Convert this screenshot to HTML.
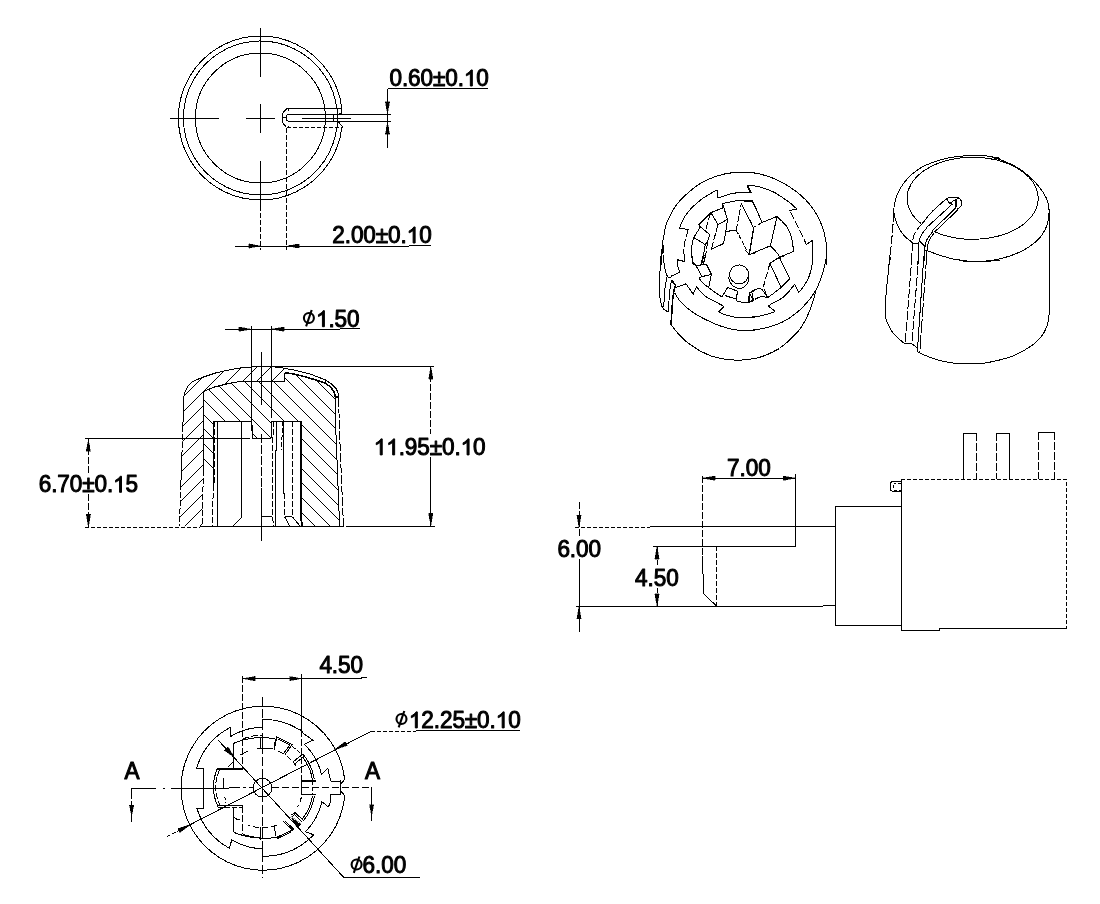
<!DOCTYPE html>
<html><head><meta charset="utf-8"><title>Knob drawing</title>
<style>
html,body{margin:0;padding:0;background:#fff;}
body{width:1100px;height:904px;overflow:hidden;font-family:"Liberation Sans",sans-serif;}
svg{display:block;filter:grayscale(1);}
svg *{vector-effect:non-scaling-stroke;}
.g{fill:none;stroke:#000;stroke-width:1;shape-rendering:crispEdges;}
.g text{fill:#000;stroke:#000;stroke-width:1.0;stroke-linejoin:round;font-family:"Liberation Sans",sans-serif;font-size:23.3px;letter-spacing:-0.1px;white-space:pre;shape-rendering:auto;}
.g .one{fill:#000;stroke:#000;stroke-width:1.0;stroke-linejoin:round;shape-rendering:auto;}
.g .ar{fill:#000;stroke:#000;stroke-width:0.4;}
.g .phi{stroke-width:2.1;shape-rendering:auto;}
</style></head><body>
<svg width="1100" height="904" viewBox="0 0 1100 904">
<rect x="0" y="0" width="1100" height="904" fill="#fff"/>
<g class="g">
<path d="M341.84,127.58 A82,82 0 1 1 341.82,108.26"/>
<path d="M336.81,127.55 A77,77 0 1 1 336.87,108.94"/>
<circle cx="260.4" cy="118" r="65"/>
<line x1="170" y1="118" x2="218.8" y2="118"/>
<line x1="246" y1="118" x2="275" y2="118"/>
<line x1="260.4" y1="27.6" x2="260.4" y2="76.8"/>
<line x1="260.4" y1="104" x2="260.4" y2="132.6"/>
<line x1="260.4" y1="160.5" x2="260.4" y2="206"/>
<line x1="260.4" y1="206" x2="260.4" y2="249.6" stroke-dasharray="5 2"/>
<line x1="286.5" y1="127.6" x2="286.5" y2="249.6" stroke-dasharray="5 2"/>
<path d="M341.5,113.0 L341.5,108.3 L329.0,108.3 L328.0,108.9 L286.5,108.9 L282.3,113.6 L282.3,122.5 L286.5,127.4"/>
<line x1="286.5" y1="127.6" x2="342" y2="127.6" stroke-dasharray="4 2"/>
<path d="M390.6,114.5 L287.7,114.5 L286.3,116.0 L286.3,120.2 L289.0,121.7 L302.0,121.7"/>
<line x1="302" y1="121.2" x2="390.6" y2="121.2"/>
<line x1="302" y1="118.2" x2="351" y2="118.2"/>
<line x1="282.3" y1="117.6" x2="286.3" y2="117.6"/>
<line x1="288.7" y1="108.9" x2="288.7" y2="110.5"/>
<line x1="288.7" y1="126" x2="288.7" y2="127.6"/>
<path d="M341.5,113.0 L338.2,114.5"/>
<path d="M338.2,121.5 L342.3,126.5 L342.0,127.6"/>
<line x1="337.5" y1="108.9" x2="337.5" y2="127.6"/>
<line x1="333.8" y1="114" x2="333.8" y2="122"/>
<line x1="387.5" y1="88.7" x2="387.5" y2="147.8"/>
<line x1="387.5" y1="88.7" x2="488" y2="88.7"/>
<polygon class="ar" points="387.5,114.3 389.7,101.7 385.3,101.7"/>
<polygon class="ar" points="387.5,121.5 385.3,134.1 389.7,134.1"/>
<g class="tx" transform="translate(389.50 86.00) scale(0.968 1)"><text x="0.00" y="0">0.60±0.</text><path class="one" transform="translate(76.87 0) scale(0.01138 -0.01093)" d="M763 0 H583 V1147 Q518 1085 412.5 1023 T223 930 V1104 Q373 1174.5 485 1275 T644 1466 H763 Z"/><text x="89.73" y="0">0</text></g>
<path d="M235.0,246.0 L409.0,246.0 L431.0,245.0"/>
<polygon class="ar" points="260.4,246.0 248.8,243.8 248.8,248.2"/>
<polygon class="ar" points="286.5,246.0 299.1,248.2 299.1,243.8"/>
<g class="tx" transform="translate(332.30 243.00) scale(0.968 1)"><text x="0.00" y="0">2.00±0.</text><path class="one" transform="translate(76.87 0) scale(0.01138 -0.01093)" d="M763 0 H583 V1147 Q518 1085 412.5 1023 T223 930 V1104 Q373 1174.5 485 1275 T644 1466 H763 Z"/><text x="89.73" y="0">0</text></g>
<path d="M183.8,396.5 L184.9,392.0 L187.7,386.5 L192.1,382.1 L197.7,379.3 L203.2,377.1 L216.5,372.7 L231.9,369.4 L241.9,367.7 L251.9,367.0 L271.6,366.6"/>
<path d="M182.9,425.8 L183.8,396.5"/>
<path d="M183.8,396.5 L182.9,425.8"/>
<path d="M183.8,396.5 L182.9,425.8"/>
<path d="M182.9,425.8 L181.9,455.0" stroke-dasharray="6 2"/>
<path d="M181.9,455.0 L180.9,484.0"/>
<path d="M180.9,484.0 L179.4,526.3" stroke-dasharray="6 2"/>
<path d="M271.6,366.6 L279.9,367.5 L296.5,370.5 L310.9,374.3 L325.3,379.9 L331.9,384.3 L336.3,388.7 L338.0,393.1 L338.5,397.6"/>
<path d="M338.5,397.6 L340.2,449.6 L343.5,526.0" stroke-dasharray="9 2"/>
<path d="M284.6,372.7 L293.2,373.8 L306.5,377.1 L315.3,379.9 L324.2,382.6 L330.8,387.1 L334.1,392.0 L335.2,396.5 L335.8,429.6 L339.6,526.0"/>
<path d="M284.6,372.7 L293.2,373.8 L306.5,377.1 L315.3,379.9 L324.2,382.6 L330.8,387.1 L334.1,392.0 L335.2,396.5" stroke-width="1.6"/>
<path d="M203.7,391.5 L204.8,390.9 L214.2,387.1 L229.7,383.2 L243.0,381.0 L271.6,381.0 L284.6,381.5"/>
<path d="M284.6,381.5 L284.6,372.7"/>
<path d="M203.7,391.5 L203.2,470.0"/>
<path d="M203.2,470.0 L202.6,526.0" stroke-dasharray="6 2"/>
<line x1="325.3" y1="379.9" x2="325.3" y2="383.2"/>
<path d="M335.2,396.5 L338.3,396.5 L338.3,397.8 L335.2,397.8"/>
<clipPath id="cs"><polygon points="179.4,526.3 180.6,490.0 181.8,455.0 182.9,425.8 183.8,396.5 184.9,392.0 187.7,386.5 192.1,382.1 197.7,379.3 203.2,377.1 216.5,372.7 231.9,369.4 241.9,367.7 251.9,367.0 271.6,366.6 284.6,368.5 284.6,381.5 271.6,381.0 243.0,381.0 229.7,383.2 214.2,387.1 204.8,390.9 203.7,391.5 203.2,470.0 202.6,526.0"/></clipPath>
<clipPath id="cc"><polygon points="203.7,391.5 204.8,390.9 214.2,387.1 229.7,383.2 243.0,381.0 271.6,381.0 284.6,381.5 284.6,372.7 293.2,373.8 306.5,377.1 315.3,379.9 324.2,382.6 330.8,387.1 334.1,392.0 335.2,396.5 335.8,429.6 339.6,526.0 300.9,526.0 300.9,421.3 271.6,421.3 271.0,438.5 252.4,438.5 251.9,421.3 214.0,421.3 212.6,526.0 202.6,526.0"/></clipPath>
<g clip-path="url(#cs)">
<line x1="170" y1="367" x2="350" y2="187"/>
<line x1="170" y1="381" x2="350" y2="201"/>
<line x1="170" y1="396" x2="350" y2="216"/>
<line x1="170" y1="410" x2="350" y2="230"/>
<line x1="170" y1="425" x2="350" y2="245"/>
<line x1="170" y1="439" x2="350" y2="259"/>
<line x1="170" y1="454" x2="350" y2="274"/>
<line x1="170" y1="468" x2="350" y2="288"/>
<line x1="170" y1="483" x2="350" y2="303"/>
<line x1="170" y1="498" x2="350" y2="318"/>
<line x1="170" y1="512" x2="350" y2="332"/>
<line x1="170" y1="527" x2="350" y2="347"/>
<line x1="170" y1="541" x2="350" y2="361"/>
<line x1="170" y1="556" x2="350" y2="376"/>
<line x1="170" y1="570" x2="350" y2="390"/>
<line x1="170" y1="585" x2="350" y2="405"/>
</g>
<g clip-path="url(#cc)">
<line x1="190" y1="445" x2="350" y2="605"/>
<line x1="190" y1="430" x2="350" y2="590"/>
<line x1="190" y1="415" x2="350" y2="575"/>
<line x1="190" y1="401" x2="350" y2="561"/>
<line x1="190" y1="386" x2="350" y2="546"/>
<line x1="190" y1="371" x2="350" y2="531"/>
<line x1="190" y1="357" x2="350" y2="517"/>
<line x1="190" y1="342" x2="350" y2="502"/>
<line x1="190" y1="327" x2="350" y2="487"/>
<line x1="190" y1="313" x2="350" y2="473"/>
<line x1="190" y1="298" x2="350" y2="458"/>
<line x1="190" y1="283" x2="350" y2="443"/>
<line x1="190" y1="269" x2="350" y2="429"/>
<line x1="190" y1="254" x2="350" y2="414"/>
<line x1="190" y1="239" x2="350" y2="399"/>
<line x1="190" y1="225" x2="350" y2="385"/>
<line x1="190" y1="210" x2="350" y2="370"/>
<line x1="190" y1="195" x2="350" y2="355"/>
</g>
<line x1="214.2" y1="421.3" x2="251.9" y2="421.3"/>
<path d="M251.9,421.3 L252.4,438.5 L271.0,438.5 L271.6,421.3 L301.8,421.3"/>
<path d="M213.7,421.3 L213.2,485.0"/>
<path d="M213.2,485.0 L212.6,526.0" stroke-dasharray="6 2"/>
<path d="M214.5,421.3 L214.2,485.0" stroke-dasharray="6 2"/>
<line x1="217.6" y1="421.3" x2="217.6" y2="526"/>
<path d="M241.9,421.3 L241.9,517.4 L233.0,525.7"/>
<line x1="199.9" y1="526" x2="343.5" y2="526"/>
<line x1="261.6" y1="516.3" x2="272.1" y2="516.3"/>
<path d="M300.9,421.3 L300.9,516.0 L302.0,526.0" stroke-width="1.8"/>
<line x1="301.9" y1="421.3" x2="301.9" y2="480"/>
<path d="M273.5,421.3 L272.7,445.0 L272.7,520.0 L274.0,526.0" stroke-dasharray="6 2"/>
<path d="M276.5,421.3 L276.5,450.0 L275.5,451.0 L275.5,526.0"/>
<path d="M283.8,421.3 L283.8,493.0"/>
<path d="M283.8,493.0 L284.6,495.0 L284.6,516.3" stroke-dasharray="6 2"/>
<path d="M284.6,516.3 L292.0,516.3"/>
<path d="M292.6,421.3 L292.6,516.3" stroke-dasharray="6 2"/>
<path d="M284.8,517.0 L289.3,525.7"/>
<path d="M292.6,517.0 L299.8,525.7"/>
<path d="M282.5,421.3 L281.6,450.0" stroke-dasharray="5 2"/>
<line x1="261.5" y1="352" x2="261.5" y2="405"/>
<line x1="261.1" y1="433.6" x2="261.1" y2="488" stroke-dasharray="9 2"/>
<line x1="261.1" y1="488" x2="261.1" y2="541"/>
<line x1="251.4" y1="325.7" x2="251.4" y2="431"/>
<line x1="271.4" y1="325.7" x2="271.4" y2="417.7"/>
<path d="M225.0,329.2 L340.0,329.2 L341.0,328.3 L360.0,328.3"/>
<polygon class="ar" points="251.4,329.2 238.8,327.0 238.8,331.4"/>
<polygon class="ar" points="271.4,329.2 284.0,331.4 284.0,327.0"/>
<g class="phi"><ellipse cx="308.9" cy="318" rx="5" ry="5"/><line x1="306.09999999999997" y1="326.4" x2="311.7" y2="310"/></g>
<g class="tx" transform="translate(316.00 326.70) scale(0.968 1)"><path class="one" transform="translate(0.00 0) scale(0.01138 -0.01093)" d="M763 0 H583 V1147 Q518 1085 412.5 1023 T223 930 V1104 Q373 1174.5 485 1275 T644 1466 H763 Z"/><text x="12.86" y="0">.50</text></g>
<line x1="253" y1="366.4" x2="433.5" y2="366.4"/>
<line x1="346.3" y1="526" x2="434.6" y2="526"/>
<line x1="430.8" y1="366.4" x2="430.8" y2="434" stroke-dasharray="7 2"/>
<line x1="430.8" y1="457" x2="430.8" y2="526"/>
<polygon class="ar" points="430.8,366.4 428.6,379.0 433.0,379.0"/>
<polygon class="ar" points="430.8,526.0 433.0,513.4 428.6,513.4"/>
<g class="tx" transform="translate(373.80 454.90) scale(0.968 1)"><path class="one" transform="translate(0.00 0) scale(0.01138 -0.01093)" d="M763 0 H583 V1147 Q518 1085 412.5 1023 T223 930 V1104 Q373 1174.5 485 1275 T644 1466 H763 Z"/><path class="one" transform="translate(12.86 0) scale(0.01138 -0.01093)" d="M763 0 H583 V1147 Q518 1085 412.5 1023 T223 930 V1104 Q373 1174.5 485 1275 T644 1466 H763 Z"/><text x="25.72" y="0">.95±0.</text><path class="one" transform="translate(89.73 0) scale(0.01138 -0.01093)" d="M763 0 H583 V1147 Q518 1085 412.5 1023 T223 930 V1104 Q373 1174.5 485 1275 T644 1466 H763 Z"/><text x="102.58" y="0">0</text></g>
<line x1="85.3" y1="438.5" x2="249.6" y2="438.5"/>
<line x1="85.3" y1="527.2" x2="199.9" y2="527.2" stroke-dasharray="4 2"/>
<line x1="88.4" y1="438.5" x2="88.4" y2="472.5" stroke-dasharray="7 2"/>
<line x1="88.4" y1="494" x2="88.4" y2="527" stroke-dasharray="7 2"/>
<polygon class="ar" points="88.4,438.5 86.2,451.1 90.6,451.1"/>
<polygon class="ar" points="88.4,527.0 90.6,514.4 86.2,514.4"/>
<g class="tx" transform="translate(38.70 492.30) scale(0.968 1)"><text x="0.00" y="0">6.70±0.</text><path class="one" transform="translate(76.87 0) scale(0.01138 -0.01093)" d="M763 0 H583 V1147 Q518 1085 412.5 1023 T223 930 V1104 Q373 1174.5 485 1275 T644 1466 H763 Z"/><text x="89.73" y="0">5</text></g>
<path d="M340.5,781.5 L341.5,783.5 L344.4,779.6 L344.4,777.6 A82,82 0 1 0 344.4,798.8 L344.1,794.8 L340.8,791.2"/>
<line x1="340.5" y1="780.2" x2="340.5" y2="794.5"/>
<path d="M196.4,768.7 A68.5,68.5 0 0 1 230.3,727.4 L230.8,736.4 A60.5,60.5 0 0 1 262.6,727.3 L262.6,719.4 A68.5,68.5 0 0 1 299.8,729.9 L301.8,730.2 L302.8,732.9 L312.8,740.3 L304.3,744.3 A60.5,60.5 0 0 1 321.5,774.6 L327.8,768.3 L330.5,780.2 L331.2,781.5 L340.5,781.5"/>
<path d="M340.5,794.5 L330.2,794.5 L330.5,800.8 L329.5,805.4 L327.8,806.4 L321.9,801.8 A60.5,60.5 0 0 1 305.3,831.8 L313.8,834.8 L307.8,840.3 A68.5,68.5 0 0 1 262.5,856.2 L262.5,848.7 A60.5,60.5 0 0 1 231.8,839.8 L229.3,848.2 A68.7,68.7 0 0 1 196.9,808.4 L203.9,808.4 L203.9,768.5 L196.4,768.7"/>
<circle cx="262.5" cy="787.8" r="9.4"/>
<line x1="262.6" y1="776" x2="262.6" y2="800"/>
<line x1="131.2" y1="788.4" x2="155.7" y2="788.4"/>
<line x1="162.5" y1="788.4" x2="165" y2="788.4"/>
<line x1="171" y1="788.2" x2="229.3" y2="788.2"/>
<line x1="229.3" y1="787.8" x2="253" y2="787.8" stroke-dasharray="11 3 3 3"/>
<line x1="272" y1="787.6" x2="371.6" y2="787.6" stroke-dasharray="7 3"/>
<line x1="262.6" y1="697.4" x2="262.6" y2="878" stroke-dasharray="9 3"/>
<path d="M233.8,768.7 L233.8,743.3 Q246,738 261.4,737.3 L275.5,738.6"/>
<path d="M242.69,739.07 A52.6,52.6 0 0 1 262.50,735.20" stroke-dasharray="7 2"/>
<line x1="217.3" y1="768.7" x2="242.7" y2="768.7" stroke-width="2"/>
<path d="M217.3,768.7 Q209.3,787.6 217.8,806.4"/>
<path d="M219.5,770 Q211.6,787.6 219.8,805" stroke-dasharray="6 2"/>
<line x1="217.8" y1="805.6" x2="242.7" y2="805.6"/>
<line x1="217.8" y1="807.4" x2="242.7" y2="807.4" stroke-dasharray="5 2"/>
<line x1="242.7" y1="675.8" x2="242.7" y2="768.7" stroke-dasharray="7 2"/>
<line x1="240.2" y1="754.8" x2="247.7" y2="751.3"/>
<line x1="228.3" y1="766.7" x2="233.3" y2="761.8"/>
<line x1="223.8" y1="778" x2="223.8" y2="787.6"/>
<line x1="224.8" y1="797" x2="225.8" y2="803" stroke-dasharray="3 2"/>
<line x1="260.5" y1="737.3" x2="260.5" y2="748.2"/>
<line x1="262.5" y1="737.3" x2="262.5" y2="748.2"/>
<line x1="257.3" y1="748.5" x2="273.2" y2="748.5"/>
<line x1="275.5" y1="738.6" x2="274.1" y2="749.5"/>
<path d="M274.5,748.0 L276.8,736.8 L292.3,744.5 L285.0,754.5"/>
<path d="M277.8,738.8 L290.0,745.0 L284.0,753.0"/>
<path d="M277.91,750.89 A40,40 0 0 1 283.97,754.05"/>
<path d="M287.29,756.41 A40,40 0 0 1 296.44,766.63" stroke-dasharray="5 3"/>
<line x1="292.3" y1="746.4" x2="302.3" y2="754.5" stroke-dasharray="4 2"/>
<line x1="293.2" y1="761.8" x2="302.7" y2="754.1"/>
<line x1="295" y1="763.6" x2="304" y2="756.4"/>
<path d="M302.81,754.01 A52.6,52.6 0 0 1 314.35,778.94"/>
<path d="M302.85,757.27 A50.6,50.6 0 0 1 312.42,779.56"/>
<line x1="301.3" y1="780.5" x2="315.9" y2="780.5" stroke-width="2"/>
<line x1="301.6" y1="779.5" x2="301.6" y2="794.5"/>
<line x1="301.3" y1="794.5" x2="315.9" y2="794.5"/>
<line x1="312.4" y1="780.5" x2="312.4" y2="794.5" stroke-dasharray="4 2"/>
<line x1="301.6" y1="674" x2="301.6" y2="730"/>
<line x1="301.8" y1="730" x2="301.8" y2="780" stroke-dasharray="7 2"/>
<path d="M314.43,796.14 A52.6,52.6 0 0 1 303.66,820.55"/>
<path d="M312.44,795.97 A50.6,50.6 0 0 1 302.28,819.07"/>
<path d="M303.6,820.5 L295.0,812.7 L290.9,815.0"/>
<path d="M302.2,822.0 L294.6,814.8 L292.0,816.5"/>
<path d="M301.38,797.20 A40,40 0 0 1 297.78,806.66" stroke-dasharray="5 3"/>
<path d="M283.2,821.4 L292.7,830.0 L276.8,837.3"/>
<path d="M285.0,821.0 L294.0,829.4"/>
<path d="M291.0,832.0 L277.5,838.5"/>
<line x1="260.9" y1="827.3" x2="260.9" y2="839"/>
<line x1="262.7" y1="827.3" x2="262.7" y2="839"/>
<path d="M276.69,825.20 A40,40 0 0 1 248.25,825.17" stroke-dasharray="6 3"/>
<path d="M274.0,825.5 L276.0,836.4"/>
<path d="M233.6,832.3 Q246,837.5 261.4,838.2 Q270,838.5 276.8,837.3"/>
<path d="M242.7,834.3 Q251,837 260.7,837.8"/>
<line x1="233.8" y1="807" x2="233.8" y2="832.3"/>
<line x1="242.7" y1="806" x2="242.7" y2="834.3" stroke-dasharray="7 2"/>
<path d="M233.8,817 Q236,819.5 240.5,820.3"/>
<line x1="260.7" y1="827.3" x2="260.7" y2="839.8"/>
<line x1="218.3" y1="740.3" x2="343.7" y2="877.4"/>
<line x1="343.7" y1="877.4" x2="419.6" y2="877.4"/>
<line x1="167" y1="836.6" x2="177" y2="831.5" stroke-dasharray="4 2"/>
<line x1="177" y1="831.5" x2="370.9" y2="731.4"/>
<line x1="370.9" y1="731.4" x2="416.3" y2="731.4" stroke-dasharray="4 2"/>
<line x1="416.3" y1="730.5" x2="519.8" y2="730.5"/>
<polygon class="ar" points="334.4,749.7 347.5,745.4 345.4,741.5"/>
<polygon class="ar" points="190.9,824.3 177.8,828.6 179.9,832.5"/>
<polygon class="ar" points="234.8,757.8 228.0,746.9 224.3,750.4"/>
<polygon class="ar" points="290.5,816.8 297.2,827.8 300.9,824.3"/>
<g class="phi"><ellipse cx="401.5" cy="719" rx="5" ry="5"/><line x1="398.7" y1="727.4" x2="404.3" y2="711"/></g>
<g class="tx" transform="translate(408.90 727.90) scale(0.968 1)"><path class="one" transform="translate(0.00 0) scale(0.01138 -0.01093)" d="M763 0 H583 V1147 Q518 1085 412.5 1023 T223 930 V1104 Q373 1174.5 485 1275 T644 1466 H763 Z"/><text x="12.86" y="0">2.25±0.</text><path class="one" transform="translate(89.73 0) scale(0.01138 -0.01093)" d="M763 0 H583 V1147 Q518 1085 412.5 1023 T223 930 V1104 Q373 1174.5 485 1275 T644 1466 H763 Z"/><text x="102.58" y="0">0</text></g>
<g class="phi"><ellipse cx="356.59999999999997" cy="864.5" rx="5" ry="5"/><line x1="353.79999999999995" y1="872.9" x2="359.4" y2="856.5"/></g>
<g class="tx" transform="translate(362.60 873.40) scale(0.968 1)"><text x="0.00" y="0">6.00</text></g>
<path d="M242.4,678.6 L360.8,678.6 L361.8,677.7 L366.5,677.7"/>
<polygon class="ar" points="242.4,678.6 255.0,680.8 255.0,676.4"/>
<polygon class="ar" points="301.5,678.6 289.9,676.4 289.9,680.8"/>
<g class="tx" transform="translate(319.40 672.90) scale(0.968 1)"><text x="0.00" y="0">4.50</text></g>
<g class="tx" transform="translate(124.50 779.10) scale(0.968 1)"><text x="0.00" y="0">A</text></g>
<g class="tx" transform="translate(364.90 779.10) scale(0.968 1)"><text x="0.00" y="0">A</text></g>
<line x1="131.6" y1="788.4" x2="131.6" y2="799"/>
<line x1="131.6" y1="801" x2="131.6" y2="821.6"/>
<polygon class="ar" points="131.6,816.0 133.8,805.3 129.4,805.3"/>
<line x1="371.6" y1="786.9" x2="371.6" y2="820.5"/>
<polygon class="ar" points="371.6,815.5 373.8,804.8 369.4,804.8"/>
<line x1="574.9" y1="527.3" x2="649.6" y2="527.3" stroke-dasharray="4 2"/>
<line x1="649.6" y1="526.4" x2="835.3" y2="526.4"/>
<line x1="653" y1="546.4" x2="795.9" y2="546.4"/>
<path d="M575.7,606.3 L822.4,606.3 L823.4,605.5 L835.3,605.5"/>
<line x1="702.4" y1="475.5" x2="702.4" y2="555.9" stroke-dasharray="7 2"/>
<path d="M702.4,555.9 L703.7,594.0 L716.3,605.8"/>
<line x1="716.3" y1="546.4" x2="716.3" y2="605.8" stroke-dasharray="5 2"/>
<line x1="795.9" y1="474" x2="795.9" y2="546.4"/>
<path d="M901.3,506.4 L835.3,506.4 L835.3,625.2 L901.3,625.2"/>
<path d="M1066.6,628.9 L939.3,628.9 L939.3,630.0 L901.3,630.0 L901.3,479.2"/>
<path d="M901.3,479.2 L1066.6,479.2 L1066.6,628.9" stroke-dasharray="4 2"/>
<path d="M963.6,479.2 L963.6,433.4 L976.3,433.4"/>
<line x1="976.3" y1="433.4" x2="976.3" y2="479.2" stroke-dasharray="8 2"/>
<path d="M996.5,433.4 L1009.4,433.4 L1009.4,479.2"/>
<line x1="996.5" y1="433.4" x2="996.5" y2="479.2" stroke-dasharray="8 2"/>
<line x1="1038.4" y1="432.2" x2="1054.4" y2="432.2"/>
<line x1="1038.4" y1="432.2" x2="1038.4" y2="479.2" stroke-dasharray="8 2"/>
<line x1="1054.4" y1="432.2" x2="1054.4" y2="479.2" stroke-dasharray="8 2"/>
<path d="M901.3,481.6 L893,481.6 Q890.6,481.6 890.6,484 L890.6,489 Q890.6,491.3 893,491.3 L901.3,491.3"/>
<path d="M901.3,483.0 L893.5,483.0 L893.5,490.0 L901.3,490.0" stroke-dasharray="3 2"/>
<line x1="702.4" y1="478.2" x2="795.9" y2="478.2"/>
<polygon class="ar" points="702.4,478.2 715.0,480.4 715.0,476.0"/>
<polygon class="ar" points="795.9,478.2 783.3,476.0 783.3,480.4"/>
<g class="tx" transform="translate(727.10 475.50) scale(0.968 1)"><text x="0.00" y="0">7.00</text></g>
<line x1="579" y1="502" x2="579" y2="538" stroke-dasharray="7 2"/>
<line x1="579" y1="558.9" x2="579" y2="632"/>
<polygon class="ar" points="579.0,527.3 581.2,515.2 576.8,515.2"/>
<polygon class="ar" points="579.0,606.3 576.8,618.9 581.2,618.9"/>
<g class="tx" transform="translate(557.40 557.30) scale(0.968 1)"><text x="0.00" y="0">6.00</text></g>
<line x1="657" y1="546.4" x2="657" y2="566" stroke-dasharray="5 2"/>
<line x1="657" y1="588" x2="657" y2="606" stroke-dasharray="5 2"/>
<polygon class="ar" points="657.0,546.4 654.8,559.0 659.2,559.0"/>
<polygon class="ar" points="657.0,606.3 659.2,593.7 654.8,593.7"/>
<g class="tx" transform="translate(635.10 585.70) scale(0.968 1)"><text x="0.00" y="0">4.50</text></g>
<path d="M913.2,243.2 C911.6,241.9 906.5,238.4 903.9,235.3 C901.2,232.2 898.9,228.4 897.3,224.6 C895.6,220.9 894.4,216.2 893.9,212.7 C893.5,209.2 894.0,206.5 894.6,203.4 C895.2,200.3 895.9,197.2 897.3,194.1 C898.6,191.0 900.4,187.9 902.6,184.8 C904.8,181.7 907.4,178.4 910.5,175.5 C913.6,172.7 917.4,169.8 921.2,167.6 C924.9,165.4 928.9,163.8 933.1,162.3 C937.3,160.7 941.9,159.3 946.4,158.3 C950.8,157.3 955.2,156.8 959.6,156.3 C964.1,155.8 968.5,155.4 972.9,155.4 C977.3,155.3 981.7,155.4 986.2,155.9 C990.7,156.4 997.7,157.9 1000.0,158.3"/>
<path d="M991.9,157.2 C994.1,157.9 1000.7,159.8 1005.1,161.6 C1009.6,163.4 1014.2,165.6 1018.4,168.2 C1022.6,170.9 1026.8,174.3 1030.4,177.5 C1033.9,180.7 1037.0,184.1 1039.6,187.5 C1042.3,190.9 1044.7,194.8 1046.3,198.1 C1047.8,201.4 1048.7,203.2 1048.9,207.4 C1049.2,211.6 1049.2,218.2 1047.6,223.3 C1046.1,228.4 1043.2,233.7 1039.6,237.9 C1036.1,242.1 1031.2,245.6 1026.4,248.5 C1021.5,251.5 1016.0,253.9 1010.4,255.8 C1004.9,257.8 998.9,259.3 993.2,260.2 C987.4,261.2 981.5,261.5 975.9,261.6 C970.4,261.6 962.7,260.9 960.0,260.8"/>
<path d="M925.1,249.9 C927.6,250.8 934.9,253.6 939.7,255.2 C944.6,256.7 948.8,258.1 954.3,259.2 C959.9,260.2 967.6,261.2 972.9,261.6 C978.2,261.9 981.7,261.5 986.2,261.3 C990.7,261.1 997.7,260.4 1000.0,260.2"/>
<path d="M921.1,223.7 A65.6,41.1 0 1 1 933.8,231.4"/>
<path d="M893.9,212.7 L892.6,230.0 L890.9,248.5 L889.6,265.0" stroke-dasharray="9 2"/>
<path d="M890.0,255.0 C889.6,258.3 888.6,268.3 888.0,274.9 C887.3,281.5 886.4,288.2 886.0,294.8 C885.5,301.5 885.0,309.9 885.3,314.7 C885.6,319.6 886.6,320.9 888.0,324.0 C889.3,327.1 890.7,330.2 893.3,333.3 C895.8,336.4 901.2,340.8 903.2,342.6 C905.2,344.4 904.9,343.7 905.2,343.9"/>
<path d="M905.2,343.9 L911.9,343.9 L917.2,347.9 L917.8,351.9"/>
<path d="M917.8,351.9 C919.3,352.6 922.8,354.5 926.5,355.9 C930.1,357.3 934.6,359.3 939.7,360.5 C944.8,361.8 951.5,363.0 957.0,363.6 C962.5,364.1 968.1,364.0 972.9,363.9 C977.8,363.7 981.7,363.5 986.2,362.8 C990.7,362.1 997.7,360.4 1000.0,359.9"/>
<path d="M960.0,363.9 C964.0,363.7 977.3,363.9 983.9,363.2 C990.5,362.5 995.0,361.1 999.8,359.9 C1004.7,358.7 1009.1,357.4 1013.1,355.9 C1017.1,354.3 1020.0,352.8 1023.7,350.6 C1027.5,348.4 1032.3,345.5 1035.7,342.6 C1039.0,339.7 1041.6,336.4 1043.6,333.3 C1045.6,330.2 1046.7,327.0 1047.6,324.0 C1048.5,321.0 1048.7,316.8 1048.9,315.4"/>
<line x1="1049.6" y1="208.7" x2="1049.6" y2="315.4"/>
<path d="M922.5,223.3 C923.8,221.7 927.8,216.3 930.4,213.4 C933.1,210.4 935.8,208.2 938.4,205.8 C941.1,203.4 945.0,199.9 946.4,198.8"/>
<path d="M926.5,227.6 L952.3,204.1"/>
<path d="M932.4,230.6 L956.3,207.4"/>
<path d="M934.4,232.2 L958.3,209.4"/>
<path d="M946.4,198.8 L949.0,197.4 L954.3,197.0 L959.6,198.1 L961.6,201.4 L961.2,206.1 L957.7,209.0"/>
<path d="M946.4,198.8 L949.7,203.4 L952.3,204.1"/>
<path d="M949.7,203.4 L955.7,199.4 L959.6,198.1"/>
<path d="M955.7,199.4 L955.7,207.4" stroke-width="1.8"/>
<path d="M922.5,223.3 C921.4,224.6 917.4,228.9 915.8,231.3 C914.3,233.7 913.7,235.5 913.2,237.9 C912.6,240.4 912.9,241.4 912.5,245.9 C912.2,250.4 911.4,261.8 911.2,265.0" stroke-dasharray="9 2"/>
<path d="M927.1,227.3 C926.1,228.6 922.5,233.1 921.2,235.3 C919.8,237.5 919.6,237.9 919.2,240.6 C918.7,243.2 918.7,247.1 918.5,251.2 C918.3,255.3 917.9,262.7 917.8,265.0"/>
<path d="M933.1,231.3 C932.1,232.6 928.5,236.8 927.1,239.3 C925.8,241.7 925.7,241.6 925.1,245.9 C924.6,250.2 924.0,261.8 923.8,265.0"/>
<path d="M934.4,232.6 C933.5,233.9 930.3,237.9 929.1,240.6 C927.9,243.2 927.6,244.5 927.1,248.5 C926.7,252.6 926.6,262.3 926.5,265.0"/>
<path d="M919.2,240.6 L925.1,246.6"/>
<path d="M913.2,243.2 L918.5,243.2"/>
<path d="M911.9,256.3 L905.2,343.9" stroke-dasharray="9 2"/>
<path d="M918.8,255.0 L911.9,343.3" stroke-dasharray="9 2"/>
<path d="M923.8,256.3 L917.4,351.2"/>
<path d="M926.7,255.0 L919.8,352.6" stroke-dasharray="14 2"/>
<path d="M662.2,249.1 C662.3,248.0 662.5,244.6 662.7,242.4 C663.0,240.2 663.3,238.7 663.8,235.8 C664.4,232.8 664.8,228.6 666.1,224.7 C667.4,220.9 669.6,216.3 671.6,212.6 C673.6,208.9 675.5,205.9 678.2,202.6 C681.0,199.3 684.3,196.0 688.2,192.7 C692.1,189.3 696.7,185.5 701.5,182.7 C706.3,179.9 711.8,177.7 716.9,176.1 C722.1,174.4 726.1,173.4 732.4,172.7 C738.8,172.1 751.2,172.3 755.0,172.2"/>
<path d="M745.0,172.2 C746.8,172.4 752.4,172.7 756.1,173.3 C759.7,173.9 763.4,174.9 767.1,176.1 C770.8,177.3 774.5,178.7 778.2,180.5 C781.9,182.2 785.6,184.2 789.2,186.6 C792.9,189.0 797.0,192.0 800.3,194.9 C803.6,197.7 806.4,200.4 809.2,203.7 C811.9,207.0 814.7,210.9 816.9,214.8 C819.1,218.7 821.0,222.7 822.4,226.9 C823.9,231.2 825.0,236.2 825.8,240.2 C826.5,244.3 826.7,247.2 826.9,251.3 C827.0,255.4 826.9,262.7 826.9,265.0"/>
<path d="M826.9,255.0 C826.5,256.8 825.6,262.4 824.6,266.1 C823.7,269.7 822.8,273.1 821.3,277.1 C819.9,281.2 818.2,286.2 815.8,290.4 C813.4,294.6 810.1,298.9 806.9,302.6 C803.8,306.3 800.9,309.4 797.0,312.5 C793.1,315.7 788.3,319.0 783.7,321.4 C779.1,323.8 773.9,325.5 769.3,326.9 C764.7,328.3 760.1,329.1 756.1,329.7 C752.0,330.3 746.8,330.3 745.0,330.4"/>
<path d="M674.4,292.6 C675.4,294.1 677.6,298.3 680.4,301.5 C683.3,304.6 687.4,308.5 691.5,311.4 C695.6,314.4 699.8,316.7 704.8,319.2 C709.8,321.6 715.8,324.5 721.4,326.3 C726.9,328.2 732.4,329.5 738.0,330.2 C743.6,330.9 752.2,330.4 755.0,330.4"/>
<path d="M815.8,290.4 C815.4,291.9 814.5,296.1 813.6,299.2 C812.7,302.4 811.7,305.5 810.3,309.2 C808.8,312.9 806.8,317.7 804.7,321.4 C802.7,325.1 801.0,327.8 798.1,331.3 C795.1,334.8 790.1,339.6 787.0,342.4 C783.9,345.2 780.8,347.3 779.5,348.3"/>
<path d="M671.0,324.7 C672.1,326.0 674.6,329.7 677.1,332.4 C679.6,335.2 682.7,338.5 686.0,341.3 C689.3,344.0 694.5,347.3 697.0,349.0 C699.5,350.7 700.3,351.0 700.9,351.3"/>
<path d="M700.9,351.3 C702.7,352.1 707.4,354.8 711.8,356.2 C716.2,357.6 722.7,358.9 727.1,359.5 C731.5,360.1 734.7,360.1 738.0,360.1 C741.3,360.1 743.4,360.1 746.7,359.7 C750.0,359.3 754.0,358.8 757.6,357.8 C761.2,356.9 764.9,355.6 768.5,354.0 C772.1,352.4 777.7,349.4 779.5,348.5"/>
<path d="M662.7,241.3 C662.6,243.4 661.9,249.6 661.6,253.5 C661.4,257.4 661.2,263.1 661.1,265.0"/>
<path d="M662.5,242.4 L663.3,253.5" stroke-width="1.6"/>
<path d="M661.1,255.0 C660.9,257.8 660.3,265.3 660.0,271.6 C659.7,277.9 659.1,286.7 659.4,292.6 C659.8,298.5 660.9,303.9 662.2,307.0 C663.5,310.1 666.1,310.9 667.2,311.4 C668.3,312.0 668.6,310.5 668.8,310.3"/>
<path d="M663.3,255.0 C663.5,256.8 663.8,262.6 664.4,266.1 C665.0,269.6 666.2,274.1 667.2,276.0 C668.2,278.0 669.9,277.4 670.5,277.7"/>
<path d="M670.5,277.7 L671.6,276.0 L679.9,272.1 L677.7,266.1 L677.1,259.4 L684.9,261.6 L684.9,256.1"/>
<path d="M667.2,276.0 C666.8,278.0 665.4,284.3 665.0,288.2 C664.5,292.1 664.8,295.9 664.4,299.2 C664.0,302.6 663.0,306.6 662.7,308.1"/>
<path d="M671.6,280.4 C671.2,282.7 669.8,288.7 669.4,293.7 C668.9,298.7 668.9,307.5 668.8,310.3"/>
<path d="M671.6,280.4 L675.5,284.9 L673.8,291.5 L672.7,299.2 L671.6,315.8 L671.0,324.7" stroke-width="1.6"/>
<path d="M675.5,287.6 L686.0,283.8 L693.2,294.3 L696.5,286.5"/>
<path d="M688.2,229.2 L679.3,228.6"/>
<path d="M679.3,228.6 C680.1,226.9 681.7,221.5 683.8,218.1 C685.8,214.7 688.6,211.3 691.5,208.1 C694.5,205.0 697.5,202.2 701.5,199.3 C705.4,196.4 713.0,192.1 715.3,190.7"/>
<path d="M715.3,190.7 L717.5,190.7 L717.8,198.2"/>
<path d="M717.8,198.2 C719.9,197.5 725.9,195.0 730.2,194.0 C734.5,193.0 740.0,192.3 743.5,192.1 C747.0,191.9 749.9,192.6 751.2,192.7"/>
<path d="M751.2,192.7 L747.9,185.5 L755.0,185.8"/>
<path d="M688.2,229.2 C687.9,230.3 687.2,233.2 686.5,235.8 C685.9,238.4 684.7,241.7 684.3,244.6 C683.9,247.6 683.9,250.7 684.0,253.5 C684.1,256.3 684.7,259.9 684.9,261.2" stroke-dasharray="8 2"/>
<path d="M684.9,261.8 L677.1,259.9 L677.1,265.0"/>
<path d="M745.0,192.4 L750.0,192.7 L747.2,185.5"/>
<path d="M747.2,185.5 C748.5,185.6 752.2,185.6 755.0,186.0 C757.7,186.5 760.7,187.2 763.8,188.2 C766.9,189.2 770.6,190.5 773.8,192.1 C776.9,193.7 779.8,195.8 782.6,197.6 C785.4,199.5 788.0,201.2 790.4,203.2 C792.8,205.1 795.9,208.2 797.0,209.2"/>
<path d="M797.0,209.2 L789.2,210.4"/>
<path d="M790.4,212.0 C791.3,213.8 794.0,218.9 795.9,222.5 C797.7,226.1 799.7,229.9 801.4,233.6 C803.2,237.3 805.6,242.8 806.4,244.6" stroke-dasharray="8 2"/>
<path d="M806.4,244.6 L812.5,240.2 L813.0,251.3 L812.7,265.0"/>
<path d="M812.5,255.0 C812.4,256.8 812.5,262.6 811.9,266.1 C811.4,269.6 810.4,272.9 809.2,276.0 C808.0,279.2 806.5,282.1 804.7,284.9 C803.0,287.6 799.7,291.3 798.7,292.6"/>
<path d="M798.7,292.6 L794.8,284.3 L792.0,287.6"/>
<path d="M792.0,287.6 C791.2,288.6 789.0,291.8 787.0,293.7 C785.1,295.7 782.6,297.8 780.4,299.2 C778.2,300.7 775.8,301.5 773.8,302.6 C771.7,303.7 769.2,305.3 768.2,305.9"/>
<path d="M768.2,305.9 L775.4,311.4"/>
<path d="M775.4,311.4 C774.0,311.9 770.4,313.3 767.1,314.2 C763.9,315.1 759.7,316.2 756.1,316.7 C752.4,317.2 746.8,317.1 745.0,317.2"/>
<path d="M696.5,286.5 C697.3,287.5 699.5,290.7 701.5,292.6 C703.4,294.5 705.5,296.5 708.1,298.1 C710.7,299.8 714.3,301.2 716.9,302.6 C719.6,303.9 722.9,305.8 724.1,306.4"/>
<path d="M724.1,306.4 L718.6,312.0"/>
<path d="M718.6,312.0 C720.0,312.5 723.7,314.4 726.9,315.3 C730.1,316.2 733.3,317.2 738.0,317.5 C742.6,317.8 752.2,317.2 755.0,317.2"/>
<path d="M722.5,203.7 C724.5,203.3 731.1,201.5 734.6,201.0 C738.1,200.4 742.0,200.5 743.5,200.4"/>
<path d="M743.5,200.7 L752.3,200.7" stroke-width="1.8"/>
<path d="M752.3,201.0 L755.0,206.5"/>
<path d="M722.5,203.7 L727.5,219.2 L725.8,231.4 L723.6,243.5 L710.9,249.6"/>
<path d="M725.8,231.4 L736.3,230.3"/>
<path d="M736.3,230.3 L741.3,203.2" stroke-dasharray="6 2"/>
<path d="M741.3,203.2 L753.5,228.1 L749.0,254.6 L755.0,252.9"/>
<path d="M736.3,230.3 L749.0,254.6" stroke-dasharray="4 2"/>
<path d="M722.5,203.7 L722.5,208.1 L710.9,212.6 L698.7,224.7 L700.4,226.9 L709.8,234.7 L707.5,241.3 L705.3,244.6"/>
<path d="M710.9,212.6 L718.1,224.7 L727.5,219.2"/>
<path d="M718.1,224.7 L715.8,232.5 L711.4,249.6" stroke-dasharray="7 2"/>
<path d="M710.3,213.7 L705.3,231.4" stroke-dasharray="7 2"/>
<path d="M700.4,226.9 L693.7,237.5 L705.3,244.6"/>
<path d="M693.7,237.5 C693.4,238.7 692.4,242.0 692.1,244.6 C691.7,247.3 691.3,250.1 691.5,253.5 C691.7,256.9 692.9,263.1 693.2,265.0"/>
<path d="M705.3,244.6 L703.7,253.5 L700.9,265.0"/>
<path d="M707.5,242.4 L705.9,253.5 L703.1,265.0" stroke-dasharray="7 2"/>
<path d="M745.0,201.0 L752.7,201.0" stroke-width="1.8"/>
<path d="M752.7,201.0 L762.1,222.5 L777.1,216.4 L770.4,245.8 L749.4,254.6 L745.0,250.2"/>
<path d="M762.1,222.5 L754.4,226.9" stroke-dasharray="5 2"/>
<path d="M745.0,211.5 C745.7,212.8 747.9,216.3 749.4,219.2 C750.9,222.1 753.1,227.0 753.8,228.6" stroke-dasharray="7 2"/>
<path d="M753.8,228.6 L749.4,254.6"/>
<path d="M777.1,216.4 C778.7,218.2 784.6,223.4 787.0,226.9 C789.4,230.5 790.4,234.0 791.5,238.0 C792.6,242.1 793.3,249.1 793.7,251.3"/>
<path d="M793.7,251.3 L779.3,257.4 L769.9,263.5 L770.4,265.0"/>
<path d="M770.4,245.8 C771.7,247.2 776.2,251.4 778.2,254.6 C780.2,257.8 781.9,263.3 782.6,265.0"/>
<path d="M692.1,256.1 L693.2,262.7 L695.9,265.5 L706.4,264.4 L711.4,274.4 L702.0,276.6 L699.2,278.2"/>
<path d="M695.9,265.5 L702.0,276.6"/>
<path d="M711.4,274.4 L708.7,287.1"/>
<path d="M699.2,278.2 C699.8,279.0 701.0,281.1 702.6,282.7 C704.1,284.2 706.6,286.1 708.7,287.6 C710.7,289.2 712.5,290.5 714.7,292.1 C716.9,293.6 720.7,296.2 721.9,297.0"/>
<path d="M721.9,297.0 L727.5,287.6 L737.4,291.0 L736.3,300.9 L742.4,302.3 L749.0,302.3 L753.5,300.9"/>
<path d="M724.7,295.4 L736.3,299.2"/>
<path d="M749.0,302.0 L749.6,293.2 L755.0,290.4"/>
<path d="M752.3,293.2 L753.5,300.9"/>
<path d="M701.5,265.0 L704.2,255.0"/>
<path d="M703.1,265.0 L705.9,255.0"/>
<ellipse cx="739.1" cy="274.4" rx="9.5" ry="9.5"/>
<path d="M728.6,277.1 C728.8,278.0 729.0,280.9 730.2,282.7 C731.4,284.4 733.7,286.7 735.8,287.6 C737.8,288.5 740.4,288.8 742.4,288.0 C744.4,287.1 746.9,284.5 747.9,282.7 C749.0,280.8 748.7,278.0 748.8,277.1"/>
<path d="M769.9,263.3 L778.2,257.8 L783.7,256.1"/>
<path d="M779.3,257.8 L789.8,278.8 L781.0,287.6 L773.8,293.2 L767.7,297.6"/>
<path d="M769.9,263.3 L781.0,287.1"/>
<path d="M769.9,263.3 L763.3,287.1 L767.7,297.6" stroke-dasharray="7 2"/>
<path d="M767.7,297.6 C766.7,296.2 763.5,290.7 761.6,289.3 C759.7,287.9 757.9,288.8 756.1,289.3 C754.2,289.8 751.6,291.4 750.5,292.1 C749.4,292.7 749.6,293.0 749.4,293.2"/>
<path d="M749.4,293.2 L748.3,302.0 L745.0,302.6"/>
<path d="M749.4,293.2 L753.3,300.4 L748.3,302.0"/>
<path d="M755.0,299.2 C756.1,298.8 759.5,296.8 761.6,296.5 C763.7,296.2 766.7,297.4 767.7,297.6"/>
</g>
</svg>
</body></html>
